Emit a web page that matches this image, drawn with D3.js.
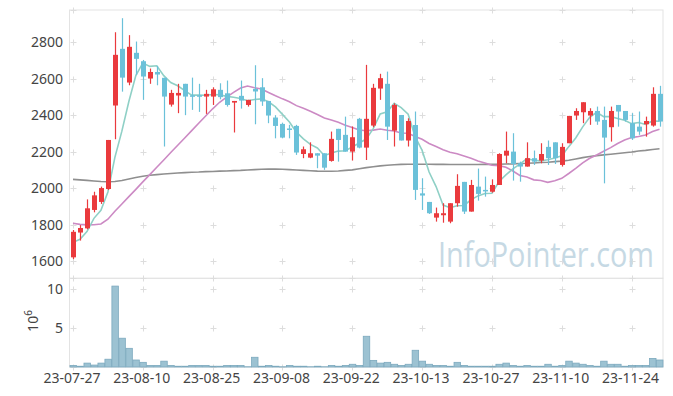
<!DOCTYPE html>
<html lang="en">
<head>
    <meta charset="UTF-8">
    <title>Candlestick</title>
    <script src="https://d3js.org/d3.v7.min.js"></script>
    <style>
        body {
            margin: 0;
            background-color: white;
            font-family: "Noto Sans", sans-serif;
        }
        svg {
            display: block;
        }
        .tick-label {
            font-size: 14px;
            fill: #444;
        }
    </style>
</head>
<body>
    <script>
        // trading days
        const dates = [
            "23-07-27","23-07-28","23-07-31","23-08-01","23-08-02","23-08-03","23-08-04","23-08-07","23-08-08","23-08-09",
            "23-08-10","23-08-11","23-08-14","23-08-16","23-08-17","23-08-18","23-08-21","23-08-22","23-08-23","23-08-24",
            "23-08-25","23-08-28","23-08-29","23-08-30","23-08-31","23-09-01","23-09-04","23-09-05","23-09-06","23-09-07",
            "23-09-08","23-09-11","23-09-12","23-09-13","23-09-14","23-09-15","23-09-18","23-09-19","23-09-20","23-09-21",
            "23-09-22","23-09-25","23-09-26","23-09-27","23-10-04","23-10-05","23-10-06","23-10-10","23-10-11","23-10-12",
            "23-10-13","23-10-16","23-10-17","23-10-18","23-10-19","23-10-20","23-10-23","23-10-24","23-10-25","23-10-26",
            "23-10-27","23-10-30","23-10-31","23-11-01","23-11-02","23-11-03","23-11-06","23-11-07","23-11-08","23-11-09",
            "23-11-10","23-11-13","23-11-14","23-11-15","23-11-16","23-11-17","23-11-20","23-11-21","23-11-22","23-11-23",
            "23-11-24","23-11-27","23-11-28","23-11-29","23-11-30"
        ];

        const open = [
            1620,1756,1779,1880,1924,1995,2453,2764,2579,2742,
            2696,2601,2637,2605,2458,2508,2572,2509,2509,2502,
            2502,2539,2520,2469,2506,2456,2544,2553,2478,2387,
            2352,2327,2341,2187,2167,2191,2191,2149,2325,2292,
            2200,2380,2222,2343,2546,2572,2315,2401,2261,2346,
            1971,1924,1838,1851,1816,1917,2034,1871,2008,1990,
            1980,2017,2178,2200,2136,2118,2164,2151,2226,2251,
            2127,2246,2398,2416,2398,2423,2374,2334,2456,2423,
            2356,2337,2350,2343,2517
        ];
        const high = [
            1770,1797,1938,1980,2008,2264,2855,2932,2839,2804,
            2703,2656,2670,2605,2539,2572,2572,2606,2572,2539,
            2553,2575,2590,2478,2590,2484,2674,2603,2478,2400,
            2359,2347,2347,2228,2251,2191,2191,2310,2325,2392,
            2338,2385,2676,2572,2627,2639,2465,2401,2383,2420,
            2054,1924,1893,1917,1917,2076,2034,2045,2107,2063,
            2048,2191,2310,2301,2145,2251,2206,2246,2261,2251,
            2246,2396,2438,2471,2438,2447,2447,2447,2456,2423,
            2411,2420,2392,2553,2561
        ];
        const low = [
            1610,1712,1774,1867,1913,1990,2268,2529,2564,2621,
            2484,2572,2564,2228,2447,2411,2400,2429,2418,2407,
            2456,2487,2447,2305,2436,2447,2350,2451,2356,2273,
            2273,2273,2182,2164,2164,2109,2100,2145,2145,2200,
            2151,2218,2154,2334,2484,2264,2228,2261,2228,1935,
            1880,1858,1816,1810,1807,1898,1858,1871,1931,1953,
            1975,2017,2136,2041,2035,2118,2127,2136,2127,2132,
            2118,2246,2374,2356,2347,2347,2026,2255,2337,2365,
            2264,2292,2282,2337,2337
        ];
        const close = [
            1760,1781,1889,1960,2000,2264,2731,2606,2775,2709,
            2612,2637,2623,2502,2522,2522,2502,2502,2502,2517,
            2542,2499,2456,2478,2480,2484,2530,2475,2398,2341,
            2277,2323,2195,2213,2191,2178,2112,2270,2264,2200,
            2279,2222,2380,2550,2603,2337,2456,2261,2368,1990,
            1959,1862,1862,1862,1917,2012,1871,2017,1968,1985,
            2017,2187,2205,2132,2118,2164,2145,2187,2164,2164,
            2226,2396,2423,2471,2423,2365,2277,2423,2420,2374,
            2273,2310,2368,2517,2365
        ];

        // volume, millions of shares
        const volume = [
            0.2,0.1,0.5,0.25,0.5,1.0,10.4,3.7,2.4,0.9,
            0.6,0.2,0.2,0.75,0.2,0.1,0.1,0.2,0.2,0.2,
            0.1,0.1,0.2,0.2,0.2,0.03,1.25,0.1,0.2,0.1,
            0.03,0.2,0.1,0.1,0.03,0.1,0.03,0.2,0.1,0.2,
            0.35,0.2,3.95,0.85,0.5,0.6,0.35,0.2,0.35,2.15,
            0.75,0.35,0.2,0.2,0.1,0.6,0.2,0.1,0.1,0.1,
            0.1,0.35,0.5,0.2,0.1,0.2,0.1,0.1,0.35,0.1,
            0.2,0.75,0.5,0.35,0.2,0.1,0.75,0.35,0.35,0.1,
            0.2,0.2,0.2,1.1,0.9
        ];

        // moving average values before the full window is available
        const ma5Head = [1702, 1719, 1761, 1834];
        const ma20Head = [
            1807,1801,1798,1799,1803,1829,1873,1913,1953,1993,
            2034,2074,2114,2154,2195,2235,2275,2315,2356
        ];
        const ma60 = [
            2048,2045,2042,2039,2036,2035,2036,2042,2050,2058,
            2065,2070,2074,2077,2080,2083,2085,2087,2088,2090,
            2091,2093,2094,2096,2097,2099,2101,2103,2104,2104,
            2103,2101,2099,2097,2095,2093,2092,2092,2094,2097,
            2100,2106,2112,2117,2122,2125,2128,2130,2131,2131,
            2131,2131,2130,2130,2129,2129,2129,2129,2129,2130,
            2130,2131,2132,2133,2135,2136,2138,2140,2142,2145,
            2148,2153,2160,2167,2173,2178,2182,2186,2190,2194,
            2198,2203,2207,2212,2216
        ];

        const priceTicks = [1600, 1800, 2000, 2200, 2400, 2600, 2800];
        const volTicks = [5, 10];

        function movingAvg(n, head) {
            return close.map((c, i) => i < n - 1 ? head[i] : d3.mean(close.slice(i - n + 1, i + 1)));
        }
        const ma5 = movingAvg(5, ma5Head);
        const ma20 = movingAvg(20, ma20Head);

        const W = 673, H = 396;
        const left = 69.5, right = 663;
        const topY = 10, midY = 278.3, botY = 367;

        const svg = d3.select("body").append("svg")
            .attr("width", W)
            .attr("height", H);

        const x = d3.scaleBand()
            .domain(d3.range(dates.length))
            .range([left, right]);
        const cx = i => x(i) + x.bandwidth() / 2;

        const y = d3.scaleLinear()
            .domain([1505, 2977])
            .range([midY, topY]);

        const yv = d3.scaleLinear()
            .domain([0, 11.4])
            .range([botY, midY]);

        const xTickIdx = d3.range(0, dates.length, 10);

        // frames
        svg.append("rect")
            .attr("x", left).attr("y", topY)
            .attr("width", right - left).attr("height", midY - topY)
            .attr("fill", "none").attr("stroke", "#e3e3e3");
        svg.append("rect")
            .attr("x", left).attr("y", midY)
            .attr("width", right - left).attr("height", botY - midY)
            .attr("fill", "none").attr("stroke", "#e3e3e3");

        // grid crosses
        function cross(g, px, py) {
            g.append("path")
                .attr("d", `M${px - 3},${py}H${px + 3}M${px},${py - 3}V${py + 3}`)
                .attr("stroke", "#dddddd")
                .attr("stroke-width", 1);
        }
        const grid = svg.append("g");
        xTickIdx.forEach(i => {
            const px = Math.round(cx(i)) + 0.5;
            priceTicks.concat([2977]).forEach(p => cross(grid, px, Math.round(y(p)) + 0.5));
            volTicks.forEach(v => cross(grid, px, Math.round(yv(v)) + 0.5));
            cross(grid, px, Math.round(midY) + 0.5);
            cross(grid, px, Math.round(botY) + 0.5);
        });

        // watermark, sized to fit its box and stretched a little in height
        const wm = svg.append("text")
            .attr("transform", "translate(438,267) scale(1,1.22)")
            .style("font-family", "'Open Sans', sans-serif")
            .style("font-size", "34px")
            .style("fill", "#c6d9e4")
            .text("InfoPointer.com");
        const wmLen = wm.node().getComputedTextLength();
        wm.style("font-size", (34 * 216 / wmLen).toFixed(2) + "px");

        // moving averages
        const line = d3.line()
            .x((d, i) => cx(i))
            .y(d => y(d));

        [[ma60, "#8f8f8f"], [ma20, "#cc8ac4"], [ma5, "#8fd0c6"]].forEach(([vals, col]) => {
            svg.append("path")
                .datum(vals)
                .attr("d", line)
                .attr("fill", "none")
                .attr("stroke", col)
                .attr("stroke-width", 1.6);
        });

        // candles
        const upCol = "#ea3a3d", downCol = "#6bc1d9";
        const candles = svg.append("g")
            .selectAll("g")
            .data(dates)
            .enter()
            .append("g");

        candles.append("line")
            .attr("x1", (d, i) => Math.round(cx(i)) + 0.5)
            .attr("x2", (d, i) => Math.round(cx(i)) + 0.5)
            .attr("y1", (d, i) => y(high[i]))
            .attr("y2", (d, i) => y(low[i]))
            .attr("stroke", (d, i) => close[i] >= open[i] ? upCol : downCol)
            .attr("stroke-width", 1.2);

        candles.append("rect")
            .attr("x", (d, i) => Math.round(cx(i)) - 2)
            .attr("width", 5)
            .attr("y", (d, i) => y(Math.max(open[i], close[i])))
            .attr("height", (d, i) => Math.max(1.5, Math.abs(y(open[i]) - y(close[i]))))
            .attr("fill", (d, i) => close[i] >= open[i] ? upCol : downCol);

        // volume bars
        svg.append("g")
            .selectAll("rect")
            .data(volume)
            .enter()
            .append("rect")
            .attr("x", (d, i) => x(i) + 0.5)
            .attr("width", x.bandwidth() - 0.5)
            .attr("y", d => yv(d))
            .attr("height", d => botY - yv(d))
            .attr("fill", "#9cc2d2")
            .attr("stroke", "#7ca9be")
            .attr("stroke-width", 0.8);

        // axis labels
        svg.append("g")
            .selectAll("text")
            .data(priceTicks)
            .enter()
            .append("text")
            .attr("class", "tick-label")
            .attr("x", 63)
            .attr("y", d => y(d) + 5)
            .attr("text-anchor", "end")
            .text(d => d);

        svg.append("g")
            .selectAll("text")
            .data(volTicks)
            .enter()
            .append("text")
            .attr("class", "tick-label")
            .attr("x", 63)
            .attr("y", d => yv(d) + 5)
            .attr("text-anchor", "end")
            .text(d => d);

        svg.append("g")
            .selectAll("text")
            .data(xTickIdx)
            .enter()
            .append("text")
            .attr("class", "tick-label")
            .attr("x", i => cx(i) - 1)
            .attr("y", 383)
            .attr("text-anchor", "middle")
            .text(i => dates[i]);

        const unit = svg.append("text")
            .attr("class", "tick-label")
            .attr("transform", "translate(38,321) rotate(-90)")
            .attr("text-anchor", "middle");
        unit.append("tspan").text("10");
        unit.append("tspan").attr("dy", -6).style("font-size", "10px").text("6");
    </script>
</body>
</html>
